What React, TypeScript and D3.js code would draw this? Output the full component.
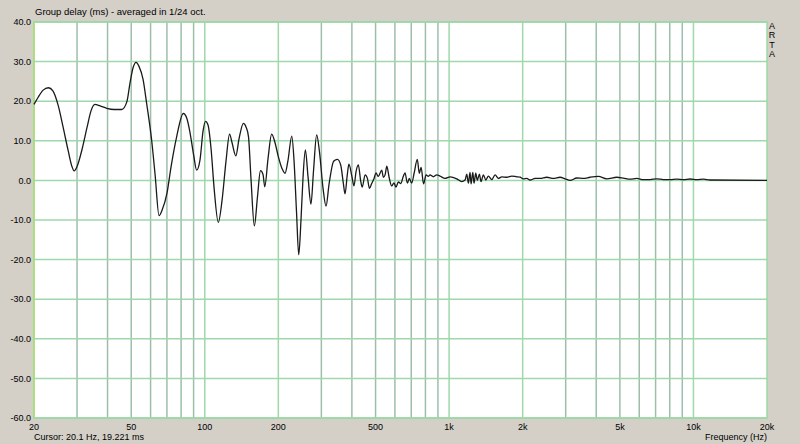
import React from 'react';
import * as d3 from 'd3';

// group delay readout, frequency in Hz / delay in ms
const freqs = [
  20, 20.8, 21.8, 22.9, 23.9, 25.1, 26.3, 27.6, 28.6, 29.2, 30.0, 31.5, 33.0, 34.2, 35.5, 37.3, 39.7, 42.5, 45.7, 48.0,
  49.4, 50.9, 52.3, 53.8, 55.9, 57.8, 60.6, 62.6, 65.0, 66.9, 70.0, 72.8, 76.7, 81.7, 84.6, 87.1, 90.0, 92.6, 95.6, 98.4,
  100.7, 103.1, 106.1, 109.2, 113.6, 117.7, 122.2, 126.3, 129.3, 134, 138.1, 143.9, 147.5, 151, 154.7, 159.5, 164.4, 169, 173.1, 176,
  181.5, 187.8, 193.9, 200, 207, 213, 219, 227, 231.9, 237.4, 242.4, 247.6, 252.3, 258, 264.5, 272, 278.7, 287, 295, 304.8,
  313.5, 322.5, 335.9, 341, 349, 360, 369, 375, 383, 389, 400, 408, 416, 425, 435, 441, 453, 463, 472, 482,
  493, 502, 513, 530, 538, 547, 556, 568, 582, 595, 606, 620, 634, 650, 660, 675, 687, 703, 719, 741,
  755, 768, 786, 805, 822, 835, 862, 890, 918, 962, 1009, 1075, 1126, 1162, 1181, 1199, 1218, 1230, 1250, 1265,
  1285, 1305, 1330, 1351, 1381, 1413, 1448, 1495, 1542, 1591, 1643, 1722, 1805, 1892, 1952, 2013, 2079, 2145, 2248, 2356,
  2509, 2671, 2845, 2982, 3126, 3331, 3544, 3775, 4082, 4418, 4856, 5167, 5503, 5863, 6239, 6645, 7079, 7533, 8024, 8547,
  9095, 9687, 10318, 10980, 11696, 20000,
];
const delays = [
  19.2, 21.0, 22.8, 23.4, 22.6, 19.0, 13.5, 7.5, 3.5, 2.4, 3.5, 8.0, 13.5, 17.5, 19.2, 18.8, 18.2, 17.9, 17.9, 19.9,
  24.5, 28.5, 29.8, 28.8, 25.5, 19.5, 10.2, 1.5, -8.9, -7.5, -3.3, 3.5, 11.0, 16.9, 15.5, 11.9, 6.5, 2.6, 5.2, 12.5,
  14.9, 14.0, 8.0, -2.0, -10.6, -5.0, 5.0, 11.7, 9.5, 6.2, 10.5, 14.4, 13.5, 11.0, 0, -11.5, -4, 2.45, 1.5, -1.6,
  5.5, 11.7, 9.5, 6.0, 3.0, 1.8, 5.0, 11.2, 5.0, -8.0, -18.8, -10.0, 0.5, 7.7, 1.0, -6.0, 2.5, 11.5, 7.0, -2.0,
  -6.5, -1.0, 4.7, 5.1, 5.3, 3.9, -0.7, -3.4, 1.4, 4.1, 1.0, -1.4, 2.2, 3.9, -0.3, -1.7, 1.4, 0.5, -2.0, -0.8,
  0.5, 1.9, 1.0, 2.6, 0.8, 1.4, 3.6, 0.8, -1.4, -0.6, -1.7, -0.4, -0.8, 1.1, 1.9, -0.7, 0.5, -0.7, 1.8, 5.3,
  1.8, 3.3, -0.9, 1.4, 1.0, 1.4, 0.9, 1.4, 1.1, 0.5, 0.9, 0.4, -0.3, 0.1, 1.6, -0.7, 2.0, -0.9, 2.0, -0.7,
  1.8, 0.0, 1.6, -0.3, 1.4, 0.1, 1.1, 0.2, 1.4, 0.5, 0.9, 0.8, 1.1, 0.9, 0.8, 0.4, 0.5, 0.1, 0.5, 0.5,
  0.8, 0.5, 0.8, 0.4, 0.0, 0.6, 0.5, 0.8, 1.0, 0.4, 0.8, 0.6, 0.3, 0.5, 0.2, 0.2, 0.4, 0.2, 0.2, 0.3,
  0.2, 0.35, 0.2, 0.3, 0.1, 0.0,
];

const yTicks = [40, 30, 20, 10, 0, -10, -20, -30, -40, -50, -60];
const xLabelFreqs = [20, 50, 100, 200, 500, 1000, 2000, 5000, 10000, 20000];
const xLabels = ['20', '50', '100', '200', '500', '1k', '2k', '5k', '10k', '20k'];
const gridFreqs = [
  30, 40, 50, 60, 70, 80, 90, 100, 200, 300, 400, 500, 600, 700, 800, 900,
  1000, 2000, 3000, 4000, 5000, 6000, 7000, 8000, 9000, 10000,
];

const W = 800;
const H = 444;
const m = { left: 34, right: 33, top: 22, bottom: 26 };
const font = '"Liberation Sans", Arial, sans-serif';

const App = () => {
  const x = d3.scaleLog().domain([20, 20000]).range([m.left, W - m.right]);
  const y = d3.scaleLinear().domain([-60, 40]).range([H - m.bottom, m.top]);

  const pts = freqs.map((f, i) => [f, delays[i]] as [number, number]);
  const line = d3
    .line<[number, number]>()
    .x(d => x(d[0]))
    .y(d => y(d[1]))
    .curve(d3.curveMonotoneX);

  const gridCol = (f: number) => {
    const lead = f / Math.pow(10, Math.floor(Math.log10(f)));
    return Math.round(lead) === 1 || Math.round(lead) === 2 ? '#9ed8ab' : '#9dbfaa';
  };

  return (
    <div style={{ position: 'absolute', left: 0, top: 0 }}>
      <svg width={W} height={H} style={{ display: 'block' }}>
        <rect x={0} y={0} width={W} height={H} fill="#d4d0c8" />
        <rect x={m.left} y={m.top} width={W - m.left - m.right} height={H - m.top - m.bottom} fill="#ffffff" />
        {gridFreqs.map(f => (
          <line key={f} x1={x(f)} x2={x(f)} y1={m.top} y2={H - m.bottom} stroke={gridCol(f)} strokeWidth={1.5} />
        ))}
        {yTicks.map(t => (
          <line key={t} x1={m.left} x2={W - m.right} y1={y(t)} y2={y(t)} stroke="#9ed8ab" strokeWidth={1.5} />
        ))}
        <rect x={m.left} y={m.top} width={W - m.left - m.right} height={H - m.top - m.bottom}
          fill="none" stroke="#9ad8a4" strokeWidth={1.5} />
        <line x1={m.left} x2={m.left} y1={m.top} y2={H - m.bottom} stroke="#a8e070" strokeWidth={1.5} />
        <path d={line(pts) || ''} fill="none" stroke="#1a1a1a" strokeWidth={1.3} />
        {yTicks.map(t => (
          <text key={t} x={m.left - 3} y={y(t)} dy="0.35em" textAnchor="end" fontFamily={font} fontSize={9} fill="#000">
            {t.toFixed(1)}
          </text>
        ))}
        {xLabelFreqs.map((f, i) => (
          <text key={f} x={x(f)} y={H - m.bottom + 12} textAnchor="middle" fontFamily={font} fontSize={9} fill="#000">
            {xLabels[i]}
          </text>
        ))}
        <text x={m.left + 1} y={15} fontFamily={font} fontSize={9.5} fill="#000">
          Group delay (ms) - averaged in 1/24 oct.
        </text>
        <text x={m.left} y={H - 4} fontFamily={font} fontSize={9} fill="#000">
          Cursor: 20.1 Hz, 19.221 ms
        </text>
        <text x={W - m.right} y={H - 4} textAnchor="end" fontFamily={font} fontSize={9} fill="#000">
          Frequency (Hz)
        </text>
        {['A', 'R', 'T', 'A'].map((c, i) => (
          <text key={i} x={772} y={29 + i * 9.3} textAnchor="middle" fontFamily={font} fontSize={9} fill="#000">
            {c}
          </text>
        ))}
      </svg>
    </div>
  );
};

export default App;
